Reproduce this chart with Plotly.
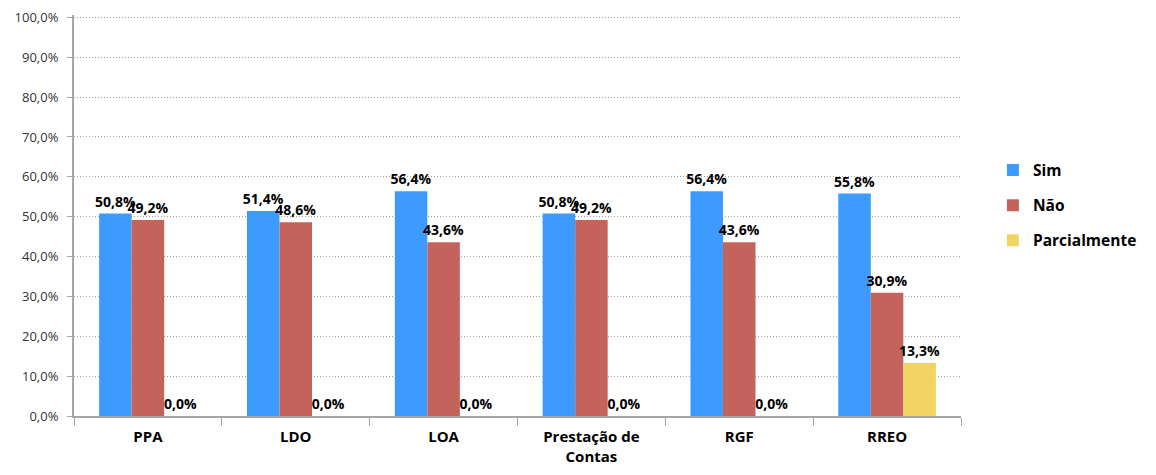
import plotly.graph_objects as go

categorias = ["PPA", "LDO", "LOA", "Prestação de<br>Contas", "RGF", "RREO"]
sim = [0.508, 0.514, 0.564, 0.508, 0.564, 0.558]
nao = [0.492, 0.486, 0.436, 0.492, 0.436, 0.309]
parcialmente = [0.0, 0.0, 0.0, 0.0, 0.0, 0.133]

series = [
    ("Sim", sim, "#3d9bff"),
    ("Não", nao, "#c4625c"),
    ("Parcialmente", parcialmente, "#f2d462"),
]

FONT = "Open Sans, Liberation Sans, sans-serif"

fig = go.Figure()
for i, (nome, vals, cor) in enumerate(series):
    fig.add_trace(go.Bar(
        x=categorias, y=vals, name=nome,
        marker=dict(color=cor, line=dict(width=0)),
        texttemplate="%{y:.1%}", textposition="outside",
        textfont=dict(family=FONT, size=14, color="#000000", weight="bold"),
        cliponaxis=False, legendgroup=f"g{i}",
    ))

fig.update_layout(
    barmode="group", bargap=0.34, bargroupgap=0,
    separators=",.",
    uniformtext=dict(minsize=14, mode="show"),
    paper_bgcolor="white", plot_bgcolor="white",
    width=1156, height=475,
    margin=dict(l=74, r=195, t=15, b=59),
    font=dict(family=FONT, color="#333333"),
    legend=dict(x=1.036, y=0.525, xanchor="left", yanchor="middle",
                font=dict(family=FONT, size=15.5, color="#000000", weight="bold"),
                tracegroupgap=12, itemwidth=30),
    showlegend=True,
)
fig.update_yaxes(range=[0, 1.006], tickvals=[i / 10 for i in range(11)], tickformat=".1%",
                 automargin=False, ticklabeloverflow="allow", ticklabelstandoff=6,
                 showgrid=True, gridcolor="#a0a0a0", griddash="1px,2px", gridwidth=1,
                 showline=True, linecolor="#a6a6a6", linewidth=2,
                 ticks="outside", ticklen=5, tickcolor="#a6a6a6",
                 tickfont=dict(family=FONT, size=13, color="#333333"),
                 zeroline=False)
fig.update_xaxes(showline=True, linecolor="#a6a6a6", linewidth=2, automargin=False,
                 ticks="outside", tickson="boundaries", ticklen=8, tickcolor="#a6a6a6",
                 ticklabelstandoff=6,
                 tickfont=dict(family=FONT, size=15, color="#000000", weight="bold"))

# drop the page's default 8px body margin so the figure sits at the window corner
fig.write_html("out.html", config={"displayModeBar": False},
               post_script="document.body.style.margin='0';")
